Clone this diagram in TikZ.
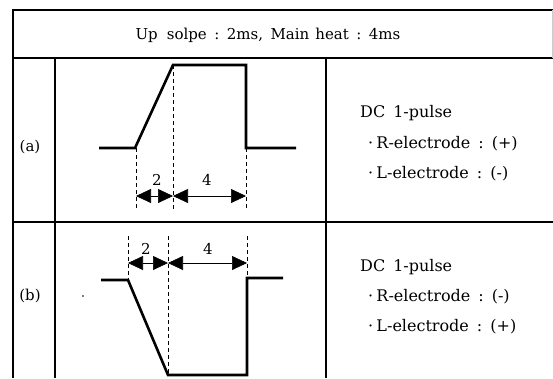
\documentclass[tikz,border=0pt]{standalone}
\usepackage{fontspec}
\setmainfont{DejaVu Serif}
\usetikzlibrary{arrows.meta}

\begin{document}
\begin{tikzpicture}[x=1pt,y=-1pt,
  frame/.style={line width=1.1pt},
  pulse/.style={line width=2.6pt,line join=miter},
  guide/.style={line width=0.7pt,dash pattern=on 4pt off 3pt},
  dimline/.style={line width=0.6pt,{Triangle[length=15pt,width=14pt]}-{Triangle[length=15pt,width=14pt]}},
  txt/.style={font=\fontsize{15}{17}\selectfont,inner sep=0pt},
  note/.style={font=\fontsize{16}{18}\selectfont,inner sep=0pt,anchor=west}]
\useasboundingbox (0,0) rectangle (553,378);

% Table frame
\draw[frame] (553,10) -- (13,10) -- (13,378);
\draw[frame] (13,58) -- (553,58);
\draw[frame] (13,222) -- (553,222);
\draw[frame] (55,58) -- (55,378);
\draw[frame] (326,58) -- (326,378);
\draw[gray!40,line width=0.5pt] (552,10) -- (552,58);

% Header
\node[txt] (head) at (268,35) {Up\hspace{0.6em}solpe\hspace{0.5em}:\hspace{0.5em}2ms,\hspace{0.5em}Main\hspace{0.4em}heat\hspace{0.5em}:\hspace{0.5em}4ms};

% Row (a)
\node[txt] (rowa) at (30,147) {(a)};
\draw[pulse] (99,148) -- (135,148) -- (173,65) -- (246,65) -- (246,148) -- (296,148);
\draw[guide] (136,148) -- (136,210);
\draw[guide] (173,65) -- (173,210);
\draw[guide] (246,148) -- (246,210);
\draw[dimline] (136,196) -- (173,196);
\draw[dimline] (173,196) -- (246,196);
\node[txt] (upa) at (157,180) {2};
\node[txt] (maina) at (207,180) {4};

\node[note] (dca) at (360,113) {DC\hspace{0.5em}1-pulse};
\node[note] (ra) at (368,144) {·\hspace{0.2em}R-electrode\hspace{0.5em}:\hspace{0.5em}(+)};
\node[note] (la) at (368,174) {·\hspace{0.2em}L-electrode\hspace{0.5em}:\hspace{0.5em}(-)};

% Row (b)
\node[txt] (rowb) at (30,296) {(b)};
\fill (83,296) circle (0.9pt);
\draw[pulse] (101,280) -- (128,280) -- (168,375) -- (247,375) -- (247,278) -- (283,278);
\draw[guide] (128,236) -- (128,280);
\draw[guide] (168,236) -- (168,375);
\draw[guide] (247,236) -- (247,278);
\draw[dimline] (128,263) -- (168,263);
\draw[dimline] (168,263) -- (247,263);
\node[txt] (upb) at (146,249) {2};
\node[txt] (mainb) at (208,249) {4};

\node[note] (dcb) at (360,267) {DC\hspace{0.5em}1-pulse};
\node[note] (rb) at (368,297) {·\hspace{0.2em}R-electrode\hspace{0.5em}:\hspace{0.5em}(-)};
\node[note] (lb) at (368,327) {·\hspace{0.2em}L-electrode\hspace{0.5em}:\hspace{0.5em}(+)};
\end{tikzpicture}
\end{document}
